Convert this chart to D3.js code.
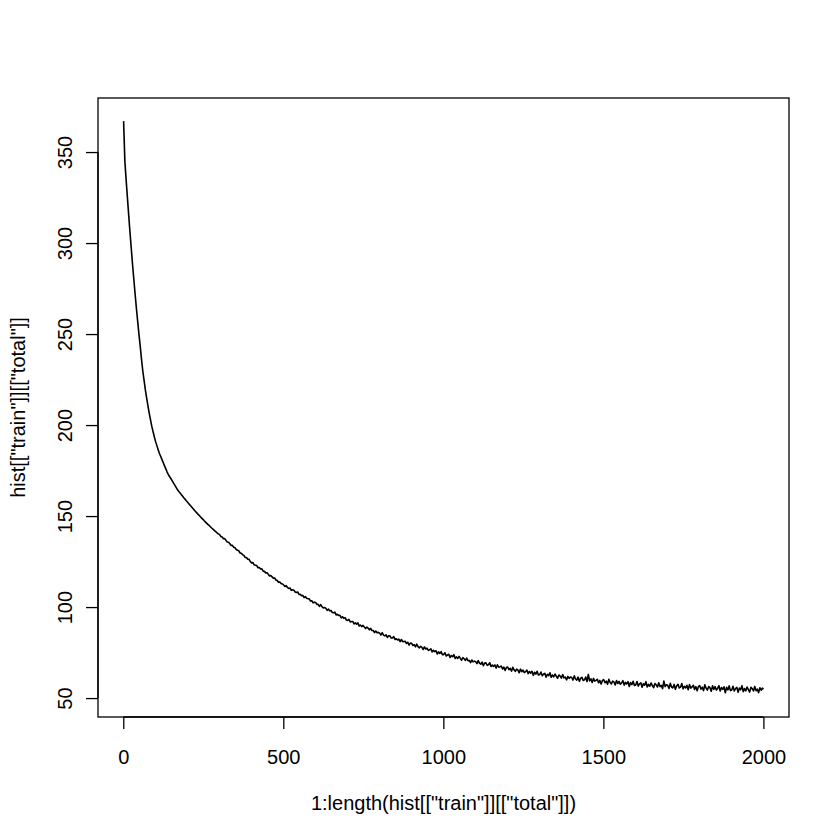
<!DOCTYPE html>
<html>
<head>
<meta charset="utf-8">
<script src="https://cdn.jsdelivr.net/npm/d3@7"></script>
<style>
  html, body { margin: 0; padding: 0; background: #ffffff; }
  svg { display: block; }
  text { font-family: "Liberation Sans", Arial, sans-serif; fill: #000; }
</style>
</head>
<body>
<script>
// ---- data ----
// training-loss history, sampled every 4th epoch (1, 5, 9, ... 1997) plus the last epoch 2000
const totalLoss = [
  367, 345, 334.5, 324.8, 315.2, 305.8, 297, 288.2, 280, 272, 264.2, 257, 249.8, 243.2, 236.1, 229.7, 224.5, 219.3, 214.9, 210.7, 206.6, 203, 199.4, 196.4, 193.6,
  190.9, 188.7, 186.5, 184.4, 182.7, 181.0, 179.3, 177.6, 175.9, 174.2, 172.8, 171.6, 170.5, 169.3, 168.1, 167.0, 165.8, 164.6, 163.6, 162.8, 161.9, 161.0, 160.1, 159.3, 158.4,
  157.6, 156.7, 155.9, 155.1, 154.3, 153.5, 152.7, 151.9, 151.1, 150.4, 149.6, 148.9, 148.2, 147.4, 146.7, 146.0, 145.3, 144.7, 144.0, 143.3, 142.7, 142.0, 141.4, 140.8, 140.2,
  139.8, 138.8, 138.5, 137.5, 137.6, 136.6, 135.8, 135.6, 134.8, 133.8, 133.9, 132.9, 132.6, 131.6, 131.2, 130.9, 129.7, 129.5, 128.7, 128.4, 127.2, 127.2, 126.3, 126.2, 125.0,
  124.3, 124.4, 123.2, 123.0, 122.8, 121.6, 121.7, 120.9, 121.0, 119.7, 119.6, 118.8, 118.9, 118.0, 117.1, 117.3, 116.6, 115.8, 116.0, 114.9, 114.6, 113.6, 113.8, 112.9, 112.7,
  112.2, 111.3, 111.8, 110.8, 110.2, 110.5, 109.2, 109.5, 109.3, 108.3, 108.0, 108.3, 106.9, 107.0, 106.3, 106.4, 105.2, 105.8, 104.8, 104.6, 104.5, 103.3, 103.5, 102.3, 102.7,
  102.5, 101.5, 101.5, 100.4, 101.3, 100.2, 99.5, 99.8, 99.3, 98.2, 98.9, 97.9, 98.1, 97.0, 96.9, 97.2, 95.7, 96.0, 95.4, 95.5, 94.0, 94.7, 93.8, 94.2, 92.9,
  92.7, 93.2, 91.8, 92.1, 92.1, 90.7, 91.3, 90.6, 91.3, 89.6, 90.1, 89.3, 89.9, 89.0, 88.2, 89.0, 88.4, 87.5, 88.3, 87.1, 87.1, 86.0, 86.8, 85.9, 86.1,
  85.7, 84.7, 85.9, 84.6, 84.2, 84.8, 83.3, 84.2, 84.2, 83.0, 83.0, 83.8, 82.2, 82.6, 81.9, 82.4, 81.0, 82.2, 81.0, 81.1, 81.2, 80.0, 80.6, 79.1, 80.2,
  80.1, 78.9, 79.3, 78.1, 79.6, 78.3, 77.6, 78.4, 77.9, 76.7, 78.1, 76.9, 77.4, 76.2, 76.5, 77.1, 75.4, 76.2, 75.5, 76.0, 74.2, 75.4, 74.5, 75.5, 73.9,
  73.9, 74.9, 73.1, 73.7, 74.1, 72.3, 73.4, 72.7, 73.9, 71.8, 72.6, 71.8, 72.9, 71.8, 70.8, 72.2, 71.6, 70.7, 72.0, 70.5, 70.7, 69.5, 70.9, 69.9, 70.3,
  70.0, 68.9, 70.6, 69.2, 68.6, 69.8, 67.8, 69.2, 69.4, 68.0, 68.3, 69.4, 67.4, 68.1, 67.4, 68.2, 66.5, 68.3, 67.0, 67.1, 67.6, 66.0, 67.0, 65.2, 66.8,
  67.0, 65.6, 66.3, 64.8, 66.9, 65.5, 64.7, 65.9, 65.3, 63.9, 65.9, 64.5, 65.4, 64.0, 64.5, 65.4, 63.4, 64.6, 63.7, 64.7, 62.5, 64.2, 63.2, 64.7, 62.7,
  62.9, 64.3, 62.3, 63.1, 63.6, 61.5, 63.1, 62.3, 63.9, 61.4, 62.7, 61.7, 63.2, 62.0, 60.9, 62.7, 62.1, 61.0, 62.9, 61.1, 61.5, 60.0, 61.9, 60.8, 61.6,
  61.3, 59.9, 62.2, 60.5, 59.9, 61.5, 59.2, 60.9, 61.4, 59.7, 60.0, 61.6, 59.1, 63.0, 59.4, 60.6, 58.5, 60.8, 59.3, 59.7, 60.3, 58.4, 59.7, 57.7, 59.7,
  60.1, 58.4, 59.3, 57.6, 60.3, 58.6, 57.8, 59.3, 58.9, 57.2, 59.6, 58.0, 59.2, 57.6, 58.3, 59.6, 57.1, 58.6, 57.8, 59.0, 56.4, 58.5, 57.4, 59.2, 56.9,
  57.2, 59.1, 56.6, 57.8, 58.4, 56.0, 57.9, 57.1, 59.0, 56.1, 57.5, 56.5, 58.3, 56.9, 55.7, 58.0, 57.3, 56.1, 58.4, 56.3, 57.0, 55.2, 59.3, 56.3, 57.3,
  57.0, 55.3, 58.1, 56.1, 55.6, 57.5, 54.8, 56.8, 57.6, 55.6, 56.0, 58.0, 55.1, 56.5, 55.6, 57.0, 54.6, 57.4, 55.5, 56.1, 57.0, 54.7, 56.3, 54.0, 56.4,
  56.8, 54.9, 56.0, 54.1, 57.3, 55.4, 54.4, 56.3, 55.7, 53.7, 56.7, 54.8, 56.3, 54.4, 55.3, 56.8, 53.9, 55.8, 54.8, 56.2, 52.9, 55.9, 54.5, 56.7, 54.1,
  54.4, 56.5, 53.9, 55.2, 55.9, 53.2, 55.5, 54.5, 56.8, 53.5, 55.2, 54.0, 56.1, 54.6, 53.3, 55.9, 55.2, 53.9, 56.4, 54.1, 54.9, 53.0, 55.7, 54.3, 55.5,
  54.9
];
const lastEpoch = 2000;
const sampleStep = 4;
const xTicks = [0, 500, 1000, 1500, 2000];
const yTicks = [50, 100, 150, 200, 250, 300, 350];
const xLabel = '1:length(hist[["train"]][["total"]])';
const yLabel = 'hist[["train"]][["total"]]';

// epoch index of each sample
const epochs = totalLoss.map((_, i) => (i === totalLoss.length - 1 ? lastEpoch : 1 + sampleStep * i));

// ---- layout ----
const W = 840, H = 840;
const box = { left: 98, right: 789, top: 98, bottom: 717 };
const fontSize = 20;
const tickLen = 12;
const lw = 1.3;
const dataLw = 1.6;

// R-style 4% extended ranges
const xMin = 1, xMax = lastEpoch;
const yMin = 52.2, yMax = 367.1;
const xPad = (xMax - xMin) * 0.04, yPad = (yMax - yMin) * 0.04;

const x = d3.scaleLinear().domain([xMin - xPad, xMax + xPad]).range([box.left, box.right]);
const y = d3.scaleLinear().domain([yMin - yPad, yMax + yPad]).range([box.bottom, box.top]);

const svg = d3.select("body").append("svg")
  .attr("width", W).attr("height", H)
  .attr("viewBox", `0 0 ${W} ${H}`);

svg.append("rect").attr("x", 0).attr("y", 0).attr("width", W).attr("height", H).attr("fill", "#fff");

// data line
const line = d3.line()
  .x((d, i) => x(epochs[i]))
  .y(d => y(d));

svg.append("path")
  .datum(totalLoss)
  .attr("d", line)
  .attr("fill", "none")
  .attr("stroke", "#000")
  .attr("stroke-width", dataLw)
  .attr("stroke-linejoin", "round");

// x axis (bottom)
const xAxis = d3.axisBottom(x).tickValues(xTicks).tickSize(tickLen).tickPadding(9)
  .tickFormat(d3.format("d"));
const gx = svg.append("g").attr("transform", `translate(0,${box.bottom})`).call(xAxis);
gx.select(".domain").attr("d", `M${x(xTicks[0])},0H${x(xTicks[xTicks.length - 1])}`)
  .attr("stroke", "#000").attr("stroke-width", lw);
gx.selectAll(".tick line").attr("stroke", "#000").attr("stroke-width", lw);
gx.selectAll(".tick text")
  .attr("font-family", '"Liberation Sans", Arial, sans-serif')
  .attr("font-size", fontSize).attr("fill", "#000")
  .attr("dy", null).attr("y", 764 - box.bottom);

// y axis (left), rotated labels like R las=0
const yAxis = d3.axisLeft(y).tickValues(yTicks).tickSize(tickLen).tickFormat(d3.format("d"));
const gy = svg.append("g").attr("transform", `translate(${box.left},0)`).call(yAxis);
gy.select(".domain").attr("d", `M0,${y(yTicks[0])}V${y(yTicks[yTicks.length - 1])}`)
  .attr("stroke", "#000").attr("stroke-width", lw);
gy.selectAll(".tick line").attr("stroke", "#000").attr("stroke-width", lw);
gy.selectAll(".tick text")
  .attr("font-family", '"Liberation Sans", Arial, sans-serif')
  .attr("font-size", fontSize).attr("fill", "#000")
  .attr("x", null).attr("dy", null)
  .attr("text-anchor", "middle")
  .attr("transform", `translate(${72 - box.left},0) rotate(-90)`);

// plot box
svg.append("rect")
  .attr("x", box.left).attr("y", box.top)
  .attr("width", box.right - box.left).attr("height", box.bottom - box.top)
  .attr("fill", "none").attr("stroke", "#000").attr("stroke-width", lw);

// axis titles
svg.append("text")
  .attr("x", (box.left + box.right) / 2).attr("y", 810)
  .attr("text-anchor", "middle").attr("font-size", fontSize)
  .text(xLabel);

svg.append("text")
  .attr("transform", `translate(25,${(box.top + box.bottom) / 2}) rotate(-90)`)
  .attr("text-anchor", "middle").attr("font-size", fontSize)
  .text(yLabel);
</script>
</body>
</html>
